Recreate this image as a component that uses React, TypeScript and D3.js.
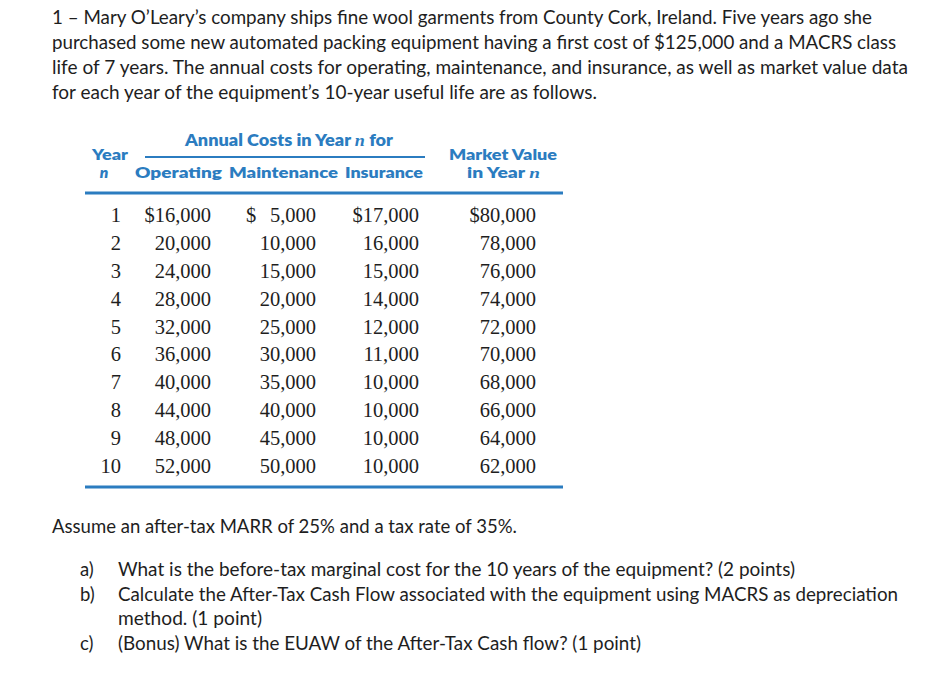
import React from "react";
import * as d3 from "d3";

const paragraph = [
  "1 \u2013 Mary O\u2019Leary\u2019s company ships fine wool garments from County Cork, Ireland. Five years ago she",
  "purchased some new automated packing equipment having a first cost of $125,000 and a MACRS class",
  "life of 7 years. The annual costs for operating, maintenance, and insurance, as well as market value data",
  "for each year of the equipment\u2019s 10-year useful life are as follows.",
];
const paragraphWidths = [820, 844, 856, 545];

const years = [1, 2, 3, 4, 5, 6, 7, 8, 9, 10];
const operating = [16000, 20000, 24000, 28000, 32000, 36000, 40000, 44000, 48000, 52000];
const maintenance = [5000, 10000, 15000, 20000, 25000, 30000, 35000, 40000, 45000, 50000];
const insurance = [17000, 16000, 15000, 14000, 12000, 11000, 10000, 10000, 10000, 10000];
const marketValue = [80000, 78000, 76000, 74000, 72000, 70000, 68000, 66000, 64000, 62000];

const assumption = "Assume an after-tax MARR of 25% and a tax rate of 35%.";
const questionLabels = ["a)", "b)", "", "c)"];
const questions = [
  "What is the before-tax marginal cost for the 10 years of the equipment? (2 points)",
  "Calculate the After-Tax Cash Flow associated with the equipment using MACRS as depreciation",
  "method. (1 point)",
  "(Bonus) What is the EUAW of the After-Tax Cash flow? (1 point)",
];
const questionWidths = [677, 780, 144, 523];

const BLUE = "#2b7cc0";
const INK = "#1e1e1e";
const SANS = "Lato, 'Open Sans', sans-serif";
const SERIF = "'Liberation Serif', 'DejaVu Serif', serif";

export default function App() {
  const fmt = d3.format(",");
  const rowY = d3.scalePoint<number>().domain(years).range([215, 466]);

  const columns = [
    { values: operating, right: 211, dollarLeft: null as number | null },
    { values: maintenance, right: 316, dollarLeft: 246 as number | null },
    { values: insurance, right: 419, dollarLeft: null as number | null },
    { values: marketValue, right: 536, dollarLeft: null as number | null },
  ];

  return (
    <svg width={927} height={686} style={{ position: "absolute", left: 0, top: 0, background: "#fff" }}>
      <rect x={0} y={0} width={927} height={686} fill="#fff" />
      {paragraph.map((line, i) => (
        <text
          key={i}
          x={52}
          y={24 + i * 25}
          fontFamily={SANS}
          fontSize={18.5}
          fill={INK}
          textLength={paragraphWidths[i]}
          lengthAdjust="spacingAndGlyphs"
        >
          {line}
        </text>
      ))}

      {/* table header */}
      <g fontFamily={SANS} fontWeight={800} fill={BLUE} fontSize={15.5}>
        <text x={185} y={146} fontSize={17} textLength={208} lengthAdjust="spacingAndGlyphs">
          Annual Costs in Year <tspan fontFamily={SERIF} fontStyle="italic">n</tspan> for
        </text>
        <text x={92} y={159.5} textLength={36} lengthAdjust="spacingAndGlyphs">Year</text>
        <text x={104} y={178} textAnchor="middle" fontStyle="italic">n</text>
        <text x={135} y={178} textLength={87} lengthAdjust="spacingAndGlyphs">Operating</text>
        <text x={229} y={178} textLength={109} lengthAdjust="spacingAndGlyphs">Maintenance</text>
        <text x={345} y={178} textLength={78} lengthAdjust="spacingAndGlyphs">Insurance</text>
        <text x={449} y={159.5} textLength={108} lengthAdjust="spacingAndGlyphs">Market Value</text>
        <text x={467} y={178} textLength={73} lengthAdjust="spacingAndGlyphs">
          in Year <tspan fontFamily={SERIF} fontStyle="italic">n</tspan>
        </text>
      </g>
      <line x1={145} x2={425} y1={157} y2={157} stroke={BLUE} strokeWidth={2} />
      <line x1={85} x2={563} y1={193} y2={193} stroke={BLUE} strokeWidth={3} />
      <line x1={85} x2={563} y1={487} y2={487} stroke={BLUE} strokeWidth={3} />

      {/* table body */}
      <g fontFamily={SERIF} fontSize={20.5} fill={INK}>
        {years.map((yr, i) => {
          const y = (rowY(yr) ?? 0) + 7;
          return (
            <g key={yr}>
              <text x={121} y={y} textAnchor="end">
                {yr}
              </text>
              {columns.map((c, j) => (
                <g key={j}>
                  {i === 0 && c.dollarLeft !== null && (
                    <text x={c.dollarLeft} y={y}>
                      $
                    </text>
                  )}
                  <text x={c.right} y={y} textAnchor="end">
                    {(i === 0 && c.dollarLeft === null ? "$" : "") + fmt(c.values[i])}
                  </text>
                </g>
              ))}
            </g>
          );
        })}
      </g>

      <text x={52} y={533} fontFamily={SANS} fontSize={18.5} fill={INK} textLength={465} lengthAdjust="spacingAndGlyphs">
        {assumption}
      </text>
      {questions.map((q, i) => (
        <g key={i} fontFamily={SANS} fontSize={18.5} fill={INK}>
          {questionLabels[i] && (
            <text x={80} y={576 + i * 24.5}>
              {questionLabels[i]}
            </text>
          )}
          <text x={118} y={576 + i * 24.5} textLength={questionWidths[i]} lengthAdjust="spacingAndGlyphs">
            {q}
          </text>
        </g>
      ))}
    </svg>
  );
}
